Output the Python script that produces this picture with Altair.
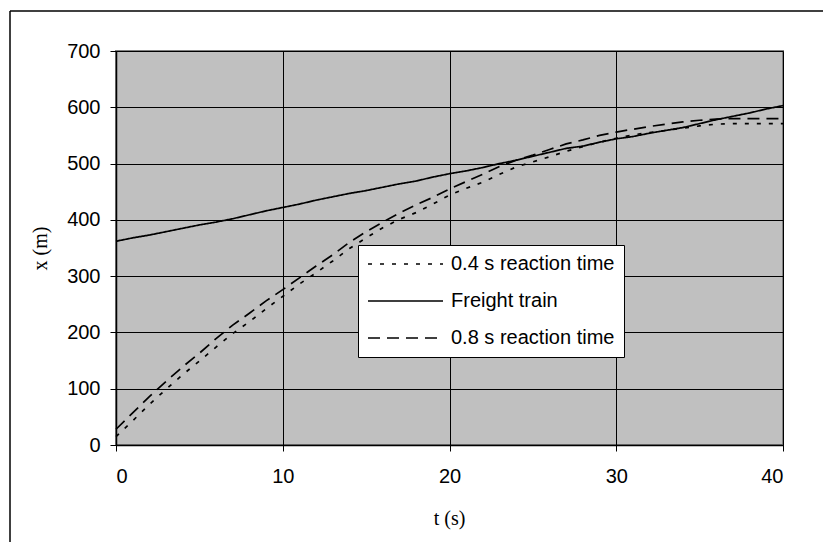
import altair as alt
import pandas as pd

t_s = list(range(41))
series_names = ["0.4 s reaction time", "Freight train", "0.8 s reaction time"]
x_04 = [15, 43, 72, 99, 125, 149, 174, 198, 219, 242, 264, 286, 306, 327, 349, 368, 386, 401, 413, 428,
        444, 456, 467, 481, 494, 503, 512, 522, 530, 538, 545, 551, 555, 559, 563, 567, 570, 571, 571, 571, 571]
x_freight = [362, 368, 373, 379, 385, 391, 396, 402, 409, 416, 422, 428, 435, 441, 447, 452, 458, 464, 469, 476,
             482, 487, 493, 500, 506, 513, 520, 527, 531, 538, 544, 548, 554, 559, 564, 571, 578, 584, 590, 597, 603]
x_08 = [28, 57, 86, 113, 139, 163, 189, 213, 234, 256, 276, 297, 318, 338, 360, 379, 396, 412, 427, 440,
        455, 468, 481, 495, 506, 515, 525, 535, 542, 550, 556, 561, 566, 570, 574, 577, 579, 580, 580, 580, 580]
x_ticks = [0, 10, 20, 30, 40]
y_ticks = [0, 100, 200, 300, 400, 500, 600, 700]

rows = []
for name, vals in zip(series_names, [x_04, x_freight, x_08]):
    for t, v in zip(t_s, vals):
        rows.append({"t": t, "x": v, "series": name})
df = pd.DataFrame(rows)

lines = alt.Chart(df).mark_line(strokeWidth=1.7).encode(
    x=alt.X("t:Q", scale=alt.Scale(domain=[0, 40], nice=False),
            axis=alt.Axis(values=x_ticks, title="t  (s)", titleX=333, titleY=73,
                          titleBaseline="middle", titleAlign="center")),
    y=alt.Y("x:Q", scale=alt.Scale(domain=[0, 700], nice=False),
            axis=alt.Axis(values=y_ticks, title="x  (m)", titleX=-76, titleY=197, titleAngle=270,
                          titleBaseline="middle", titleAlign="center")),
    color=alt.Color("series:N", scale=alt.Scale(domain=series_names, range=["black", "black", "black"]),
                    sort=series_names, legend=alt.Legend(title=None)),
    strokeDash=alt.StrokeDash("series:N", scale=alt.Scale(domain=series_names, range=[[4, 8], [1, 0], [12, 7]]),
                              sort=series_names, legend=alt.Legend(title=None)),
    detail="series:N",
)

# outer frame (top and left edges, as in the reference)
top_rule = alt.Chart(alt.Data(values=[{"a": 1}])).mark_rule(color="black", strokeWidth=1.5).encode(
    x=alt.value(-106), x2=alt.value(740), y=alt.value(-40))
left_rule = alt.Chart(alt.Data(values=[{"a": 1}])).mark_rule(color="black", strokeWidth=1.5).encode(
    x=alt.value(-106), y=alt.value(-40), y2=alt.value(491))

chart = alt.layer(lines, top_rule, left_rule).properties(
    width=667, height=394,
    padding={"left": 116, "top": 51, "right": 40, "bottom": 97},
    autosize=alt.AutoSizeParams(type="none"),
    background="white",
).configure_view(
    fill="#C0C0C0", stroke="#808080", strokeWidth=2
).configure_axis(
    grid=True, gridColor="black", gridWidth=1, gridOpacity=1,
    domainColor="black", domainWidth=1.5,
    tickColor="black", tickSize=6, tickWidth=1,
    labelFont="Liberation Sans", labelFontSize=20, labelColor="black",
    titleFont="Liberation Serif", titleFontSize=20, titleFontWeight="normal", titleColor="black",
).configure_axisX(
    labelPadding=15
).configure_axisY(
    labelPadding=10
).configure_legend(
    orient="none", legendX=242, legendY=194,
    fillColor="white", strokeColor="black", strokeWidth=1,
    padding=9, symbolType="stroke", symbolSize=5625, symbolStrokeWidth=1.6,
    symbolStrokeColor="black", clipHeight=20, rowPadding=17,
    labelFont="Liberation Sans", labelFontSize=20, labelColor="black", labelOffset=7,
    labelLimit=400,
)

chart.save("out.html", embed_options={"renderer": "svg", "actions": False})
